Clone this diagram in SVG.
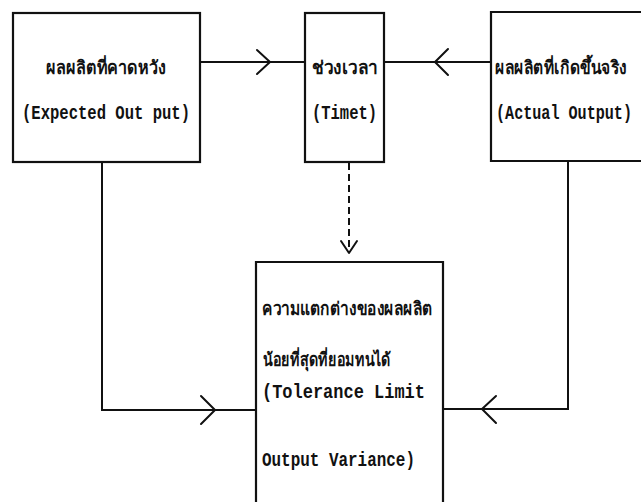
<svg xmlns="http://www.w3.org/2000/svg" width="641" height="502" viewBox="0 0 641 502">
<style>
.box{fill:#fff;stroke:#111;stroke-width:2.2}
.ln{fill:none;stroke:#111;stroke-width:2}
.dash{fill:none;stroke:#111;stroke-width:2;stroke-dasharray:7 4}
.ch{fill:none;stroke:#111;stroke-width:2;stroke-linecap:round;stroke-linejoin:round}
.en{font-family:"Liberation Mono",monospace;font-weight:bold;font-size:15px;fill:#111}
.th{font-family:"Noto Sans","DejaVu Sans",sans-serif;font-weight:bold;font-size:14px;fill:#111}
</style>
<rect width="641" height="502" fill="#fff"/>
<g id="connectors">
<line class="ln" x1="200" y1="62" x2="305" y2="62"/>
<polyline class="ch" points="257,50 270,62 257,74"/>
<line class="ln" x1="491" y1="62" x2="384" y2="62"/>
<polyline class="ch" points="448,49 435,62 448,75"/>
<polyline class="ln" points="102,162 102,410 256,410"/>
<polyline class="ch" points="201,396 215,410 201,424"/>
<polyline class="ln" points="568,161 568,409 443,409"/>
<polyline class="ch" points="496,396 482,409 496,423"/>
<line class="dash" x1="349" y1="163" x2="349" y2="252"/>
<polyline class="ch" points="341,241 349,253 357,241"/>
</g>
<g id="expected">
<rect class="box" x="13" y="13" width="187" height="149"/>
<text class="th" transform="translate(46,74) scale(1,1.3)" textLength="120" lengthAdjust="spacingAndGlyphs">ผลผลิตที่คาดหวัง</text>
<text class="en" transform="translate(22,119) scale(1,1.33)" textLength="168" lengthAdjust="spacingAndGlyphs">(Expected Out put)</text>
</g>
<g id="time">
<rect class="box" x="305" y="13" width="79" height="149"/>
<text class="th" transform="translate(312,74) scale(1,1.3)" textLength="66" lengthAdjust="spacingAndGlyphs">ช่วงเวลา</text>
<text class="en" transform="translate(312,119) scale(1,1.33)" textLength="65" lengthAdjust="spacingAndGlyphs">(Timet)</text>
</g>
<g id="actual">
<path class="box" d="M641,12 H491 V161 H641"/>
<text class="th" transform="translate(495,74) scale(1,1.3)" textLength="132" lengthAdjust="spacingAndGlyphs">ผลผลิตที่เกิดขึ้นจริง</text>
<text class="en" transform="translate(496,119) scale(1,1.33)" textLength="136" lengthAdjust="spacingAndGlyphs">(Actual Output)</text>
</g>
<g id="tolerance">
<path class="box" d="M256,502 V262 H443 V502"/>
<text class="th" transform="translate(262,315) scale(1,1.3)" textLength="171" lengthAdjust="spacingAndGlyphs">ความแตกต่างของผลผลิต</text>
<text class="th" transform="translate(263,366) scale(1,1.3)" textLength="128" lengthAdjust="spacingAndGlyphs">น้อยที่สุดที่ยอมทนได้</text>
<text class="en" transform="translate(262,398) scale(1,1.33)" textLength="163" lengthAdjust="spacingAndGlyphs">(Tolerance Limit</text>
<text class="en" transform="translate(262,466) scale(1,1.33)" textLength="153" lengthAdjust="spacingAndGlyphs">Output Variance)</text>
</g>
</svg>
